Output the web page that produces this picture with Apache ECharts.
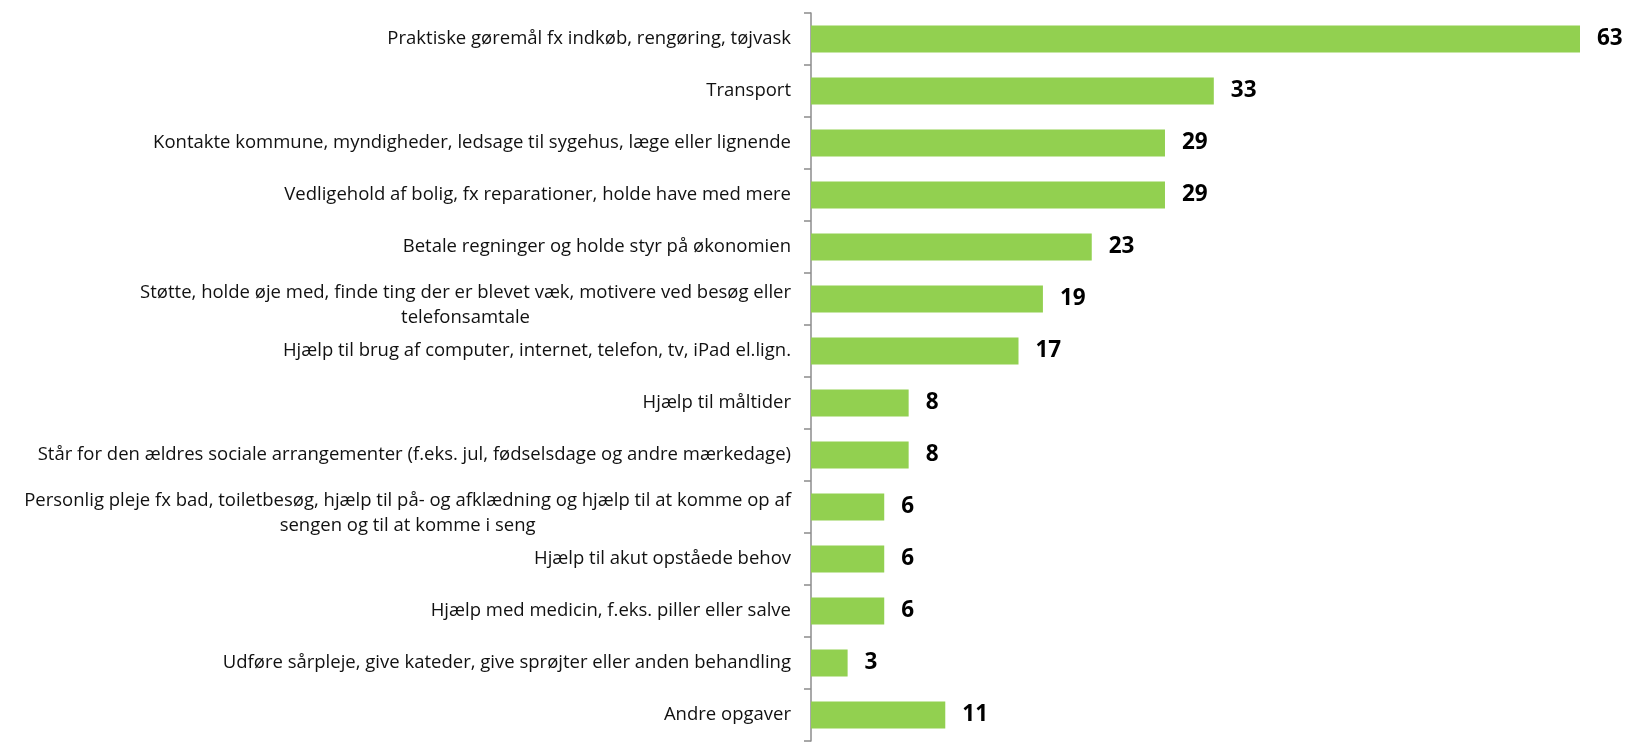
<!DOCTYPE html>
<html><head><meta charset="utf-8">
<script src="https://cdn.jsdelivr.net/npm/echarts@6/dist/echarts.min.js"></script>
<style>html,body{margin:0;padding:0;background:#fff}#c{width:1626px;height:745px}</style>
</head><body><div id="c"></div>
<script>
const categories = [
  "Praktiske gøremål fx indkøb, rengøring, tøjvask",
  "Transport",
  "Kontakte kommune, myndigheder, ledsage til sygehus, læge eller lignende",
  "Vedligehold af bolig, fx reparationer, holde have med mere",
  "Betale regninger og holde styr på økonomien",
  "Støtte, holde øje med, finde ting der er blevet væk, motivere ved besøg eller\ntelefonsamtale",
  "Hjælp til brug af computer, internet, telefon, tv, iPad el.lign.",
  "Hjælp til måltider",
  "Står for den ældres sociale arrangementer (f.eks. jul, fødselsdage og andre mærkedage)",
  "Personlig pleje fx bad, toiletbesøg, hjælp til på- og afklædning og hjælp til at komme op af\nsengen og til at komme i seng",
  "Hjælp til akut opståede behov",
  "Hjælp med medicin, f.eks. piller eller salve",
  "Udføre sårpleje, give kateder, give sprøjter eller anden behandling",
  "Andre opgaver"
];
const values = [63, 33, 29, 29, 23, 19, 17, 8, 8, 6, 6, 6, 3, 11];

const txt = {fontFamily: 'Open Sans', fontSize: 18.5, color: '#111', align: 'center', lineHeight: 25};
const chart = echarts.init(document.getElementById('c'));
chart.setOption({
  animation: false,
  grid: {left: 811, right: 46, top: 13, bottom: 4, containLabel: false},
  xAxis: {type: 'value', min: 0, max: 63, show: false},
  yAxis: {
    type: 'category', inverse: true, data: categories,
    axisLine: {lineStyle: {color: '#8c8c8c', width: 1.5}},
    axisTick: {show: true, length: 7, lineStyle: {color: '#8c8c8c', width: 1.5}},
    axisLabel: {
      margin: 20, align: 'right', lineHeight: 25,
      fontFamily: 'Open Sans', fontSize: 18.5, color: '#111',
      formatter: v => {
        const parts = v.split('\n');
        if (parts.length === 1) return '{c|' + v + '}';
        return '{s| }\n' + parts.map(s => '{c|' + s + '}').join('\n');
      },
      rich: {c: txt, s: {fontSize: 1, lineHeight: 12, color: 'rgba(0,0,0,0)'}}
    }
  },
  series: [{
    type: 'bar', data: values, barWidth: '52%',
    itemStyle: {color: '#92D050'},
    label: {show: true, position: 'right', distance: 17, fontFamily: 'Open Sans', fontWeight: 'bold', fontSize: 22.5, color: '#000'}
  }]
});
</script></body></html>
